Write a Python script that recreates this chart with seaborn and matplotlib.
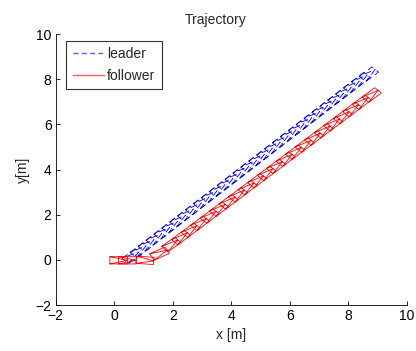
import numpy as np
import pandas as pd
import matplotlib
matplotlib.use("Agg")
import matplotlib.pyplot as plt
import seaborn as sns
from matplotlib.lines import Line2D

# robot poses: centre x, centre y [m], heading [deg]
leader_x = [0.60, 0.87, 1.14, 1.41, 1.68, 1.95, 2.22, 2.49, 2.76, 3.03, 3.30,
            3.57, 3.84, 4.11, 4.38, 4.65, 4.92, 5.19, 5.46, 5.73, 6.00, 6.27,
            6.54, 6.81, 7.08, 7.35, 7.62, 7.89, 8.16, 8.43, 8.70]
leader_y = [0.15, 0.42, 0.69, 0.96, 1.23, 1.50, 1.77, 2.04, 2.31, 2.58, 2.85,
            3.12, 3.39, 3.66, 3.93, 4.20, 4.47, 4.74, 5.01, 5.28, 5.55, 5.82,
            6.09, 6.36, 6.63, 6.90, 7.17, 7.44, 7.71, 7.98, 8.22]
leader_th = [40, 43, 44, 45, 45, 45, 45, 45, 45, 45, 45,
             45, 45, 45, 45, 45, 45, 45, 45, 45, 45, 45,
             45, 45, 45, 45, 45, 45, 45, 45, 44]

follower_x = [0.15, 0.45, 1.05, 1.55, 1.95, 2.28, 2.61, 2.93, 3.26, 3.58, 3.91,
              4.23, 4.56, 4.88, 5.21, 5.53, 5.86, 6.18, 6.51, 6.83, 7.16, 7.48,
              7.81, 8.13, 8.46, 8.80]
follower_y = [-0.02, -0.02, -0.02, 0.28, 0.68, 0.99, 1.31, 1.62, 1.94, 2.25, 2.57,
              2.88, 3.20, 3.51, 3.83, 4.14, 4.46, 4.77, 5.09, 5.40, 5.72, 6.03,
              6.35, 6.66, 6.98, 7.30]
follower_th = [0, 0, -5, 30, 42, 44, 44, 44, 44, 44, 44,
               44, 44, 44, 44, 44, 44, 44, 44, 44, 44, 44,
               44, 44, 44, 44]

body_len = 0.6
body_wid = 0.32


def footprints(xs, ys, ths, name):
    # rectangle outline plus a heading triangle for each pose
    lx = body_len / 2
    wy = body_wid / 2
    local = np.array([[-lx, wy], [lx, wy], [lx, -wy], [-lx, -wy],
                      [-lx, wy], [lx, 0.0], [-lx, -wy]])
    rows = []
    for k, (x, y, th) in enumerate(zip(xs, ys, ths)):
        t = np.deg2rad(th)
        rot = np.array([[np.cos(t), -np.sin(t)], [np.sin(t), np.cos(t)]])
        pts = local @ rot.T + [x, y]
        for j, (px, py) in enumerate(pts):
            rows.append({"x": px, "y": py, "robot": name, "unit": f"{name}{k}", "order": j})
    return rows


df = pd.DataFrame(footprints(leader_x, leader_y, leader_th, "leader")
                  + footprints(follower_x, follower_y, follower_th, "follower"))

sns.set_style("white")
plt.rcParams["font.family"] = ["Liberation Sans", "DejaVu Sans"]
plt.rcParams["axes.unicode_minus"] = True

fig = plt.figure(figsize=(4.16, 3.51), dpi=100)
ax = fig.add_axes([0.134, 0.131, 0.844, 0.772])

sns.lineplot(data=df, x="x", y="y", hue="robot", style="robot", units="unit",
             estimator=None, sort=False, palette={"leader": "blue", "follower": "red"},
             dashes={"leader": (8, 5), "follower": ""}, linewidth=0.6,
             legend=False, ax=ax)

ax.set_xlim(-2, 10)
ax.set_ylim(-2, 10)
ax.set_xticks(range(-2, 11, 2))
ax.set_yticks(range(-2, 11, 2))
ax.set_title("Trajectory", fontsize=10, pad=7, x=0.455)
ax.set_xlabel("x [m]", fontsize=10, labelpad=3.5)
ax.set_ylabel("y[m]", fontsize=10, labelpad=4)
ax.tick_params(direction="in", length=3, width=0.6, labelsize=10, pad=3,
               colors="black", bottom=True, left=True)
for s in ["top", "right"]:
    ax.spines[s].set_visible(False)
for s in ["left", "bottom"]:
    ax.spines[s].set_color("black")
    ax.spines[s].set_linewidth(0.6)

handles = [Line2D([0], [0], color=(0.35, 0.35, 1.0), linestyle=(0, (3.5, 2.5)), linewidth=1.0),
           Line2D([0], [0], color=(1.0, 0.35, 0.35), linestyle="-", linewidth=1.0)]
leg = ax.legend(handles=handles, labels=["leader", "follower"], loc="upper left",
                bbox_to_anchor=(0.03, 0.975), fontsize=10, frameon=True,
                fancybox=False, handlelength=2.3, handletextpad=0.2,
                borderpad=0.45, labelspacing=0.55, borderaxespad=0)
leg.get_frame().set_edgecolor("black")
leg.get_frame().set_linewidth(0.8)

fig.savefig("out.png", dpi=100)
